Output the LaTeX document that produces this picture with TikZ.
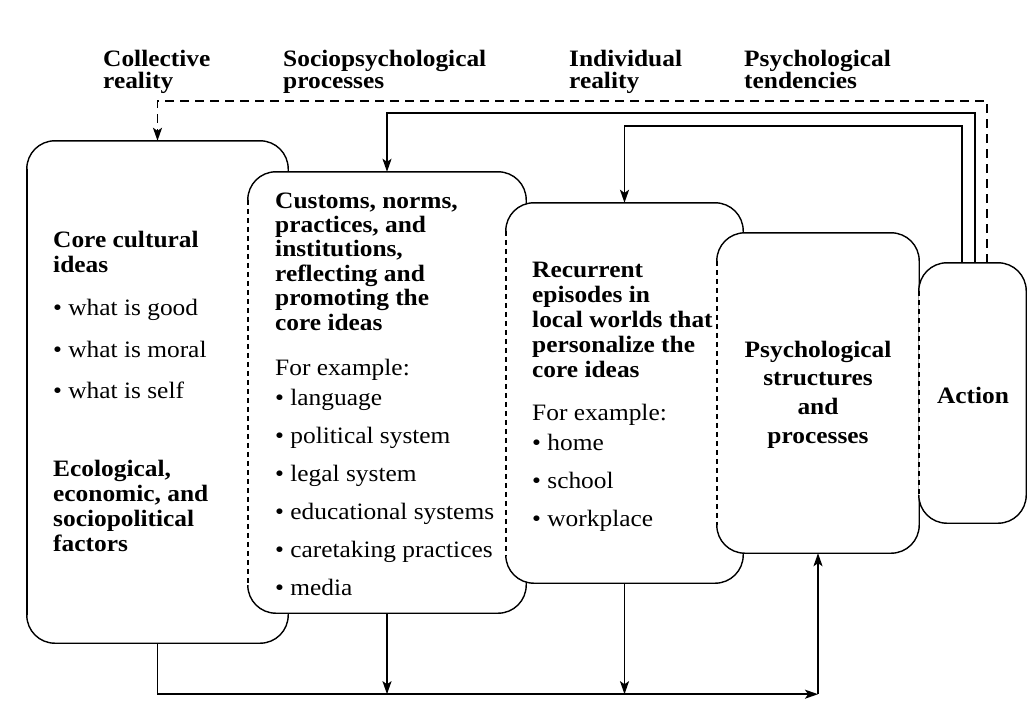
\documentclass[tikz,border=0pt]{standalone}
\usepackage{fontspec}
\setmainfont{Liberation Serif}[FakeStretch=1.08]
\usetikzlibrary{arrows.meta}
\newcommand\tb[3]{\parbox[t]{#1}{\fontsize{23.5pt}{#2}\selectfont\lineskiplimit=-50pt\lineskip=0pt\raggedright #3}}
\newcommand\boxline[2]{%
  \draw[boxedge, rounded corners=28pt] ([yshift=-28pt]#1.north west) -- (#1.north west) -- (#1.north east) -- (#1.south east) -- (#1.south west) -- ([yshift=28pt]#1.south west);
  \draw[boxedge, #2] ([yshift=-28pt]#1.north west) -- ([yshift=28pt]#1.south west);}
\begin{document}
\begin{tikzpicture}[x=1pt,y=-1pt,
  box/.style={rectangle, rounded corners=28pt, fill=white, inner sep=0pt},
  boxedge/.style={line width=1.4pt},
  leftdash/.style={dash pattern=on 5pt off 4pt},
  tip/.style={-{Stealth[length=13pt,width=9pt,inset=3pt]}},
  conn/.style={line width=1.5pt, tip},
  txt/.style={inner sep=0pt, anchor=base west},
]
\useasboundingbox[fill=white] (0,0) rectangle (1027,706);

% boxes, each drawn over the previous one
\node[box, minimum width=261pt, minimum height=502pt] (b1) at (157.5,392) {};
\boxline{b1}{solid}
\node[box, minimum width=278pt, minimum height=441pt] (b2) at (387,392.5) {};
\boxline{b2}{leftdash}
\node[box, minimum width=237pt, minimum height=380pt] (b3) at (624.5,393) {};
\boxline{b3}{leftdash}
\node[box, minimum width=202pt, minimum height=320pt] (b4) at (818,393) {};
\boxline{b4}{leftdash}
\node[box, minimum width=107pt, minimum height=260pt] (b5) at (972.5,393) {};
\boxline{b5}{leftdash}

% top feedback connectors
\draw[conn, dash pattern=on 9pt off 6pt] ([xshift=14.5pt]b5.north) |- ([yshift=40pt]b1.north) -- (b1.north);
\draw[conn] ([xshift=2.5pt]b5.north) |- ([yshift=59pt]b2.north) -- (b2.north);
\draw[conn] ([xshift=-10.5pt]b5.north) |- ([yshift=77pt]b3.north) -- (b3.north);

% bottom connectors
\coordinate (bc) at ([yshift=-141pt]b4.south);
\draw[conn] (b1.south) |- (bc);
\draw[conn] (bc) -- (b4.south);
\draw[conn] (b2.south) -- (b2.south |- bc);
\draw[conn] (b3.south) -- (b3.south |- bc);

% top labels
\node[txt] (l1) at (103,67) {\tb{200pt}{22pt}{\bfseries Collective\\reality}};
\node[txt] (l2) at (283,67) {\tb{250pt}{22pt}{\bfseries Sociopsychological\\processes}};
\node[txt] (l3) at (569,67) {\tb{200pt}{22pt}{\bfseries Individual\\reality}};
\node[txt] (l4) at (744,67) {\tb{200pt}{22pt}{\bfseries Psychological\\tendencies}};

% box texts
\node[txt] (t1) at (53,247) {\tb{230pt}{25pt}{\textbf{Core cultural}\\\textbf{ideas}\\[18pt]\textbullet\ what is good\\[17pt]\textbullet\ what is moral\\[16pt]\textbullet\ what is self\\[53pt]\textbf{Ecological,}\\\textbf{economic, and}\\\textbf{sociopolitical}\\\textbf{factors}}};
\node[txt] (t2) at (275,208) {\tb{245pt}{24.4pt}{\textbf{Customs, norms,}\\\textbf{practices, and}\\\textbf{institutions,}\\\textbf{reflecting and}\\\textbf{promoting the}\\\textbf{core ideas}\\[20.6pt]For example:\\[5.6pt]\textbullet\ language\\[13.6pt]\textbullet\ political system\\[13.6pt]\textbullet\ legal system\\[13.6pt]\textbullet\ educational systems\\[13.6pt]\textbullet\ caretaking practices\\[13.6pt]\textbullet\ media}};
\node[txt] (t3) at (532,277) {\tb{205pt}{25pt}{\textbf{Recurrent}\\\textbf{episodes in}\\\textbf{local worlds that}\\\textbf{personalize the}\\\textbf{core ideas}\\[18pt]For example:\\[5pt]\textbullet\ home\\[13pt]\textbullet\ school\\[13pt]\textbullet\ workplace}};
\node[inner sep=0pt, anchor=base] (t4) at (818,357) {\parbox[t]{200pt}{\centering\fontsize{23.5pt}{28.7pt}\selectfont\bfseries Psychological\\structures\\and\\processes}};
\node[inner sep=0pt, anchor=base] (t5) at (973,403) {\fontsize{23.5pt}{25pt}\selectfont\bfseries Action};
\end{tikzpicture}
\end{document}
